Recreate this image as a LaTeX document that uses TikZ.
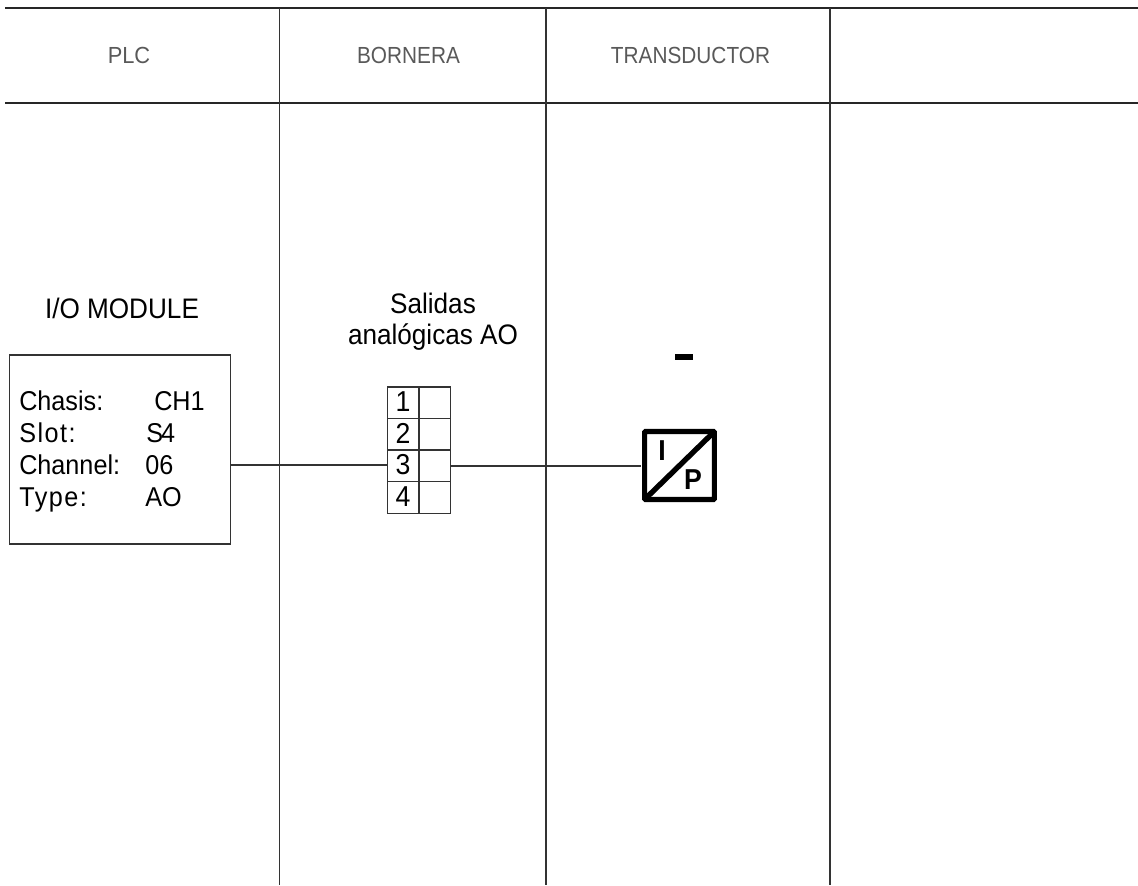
\documentclass[tikz,border=0pt]{standalone}
\usepackage{graphicx}
\usepackage{fontspec}
\setmainfont{Liberation Sans}
\newcommand{\tl}[1]{\scalebox{1}[1.08]{#1}}
\newcommand{\wide}[1]{{\addfontfeature{LetterSpace=6}#1}}
\tikzset{
  x=0.75pt, y=-0.75pt,
  rule/.style={draw=black!85, line width=0.9pt},
  thin rule/.style={draw=black!80, line width=0.8pt},
  hdr/.style={font=\fontsize{15.6pt}{15.6pt}\selectfont, text=black!65, inner sep=0pt, anchor=base},
  lbl/.style={font=\fontsize{19.6pt}{19.6pt}\selectfont, text=black, inner sep=0pt, anchor=base},
  lblw/.style={font=\fontsize{18.9pt}{18.9pt}\selectfont, text=black, inner sep=0pt, anchor=base west},
  cell/.style={thin rule, minimum width=23.25pt, minimum height=23.6pt, inner sep=0pt, outer sep=0pt, font=\fontsize{20pt}{20pt}\selectfont},
  iptxt/.style={font=\fontsize{20pt}{20pt}\selectfont\bfseries, inner sep=0pt, anchor=center},
}
\begin{document}
\begin{tikzpicture}
\useasboundingbox (0,0) rectangle (1138,885);
\fill[white] (0,0) rectangle (1138,885);
% frame
\coordinate (hl1) at (5,8);   \coordinate (hr1) at (1138,8);
\coordinate (hl2) at (5,103); \coordinate (hr2) at (1138,103);
\coordinate (v1t) at (279.5,8); \coordinate (v1b) at (279.5,885);
\coordinate (v2t) at (546,8);   \coordinate (v2b) at (546,885);
\coordinate (v3t) at (830,8);   \coordinate (v3b) at (830,885);
\draw[rule] (hl1) -- (hr1);
\draw[rule] (hl2) -- (hr2);
\draw[thin rule] (v1t) -- (v1b);
\draw[thin rule] (v2t) -- (v2b);
\draw[thin rule] (v3t) -- (v3b);
% headers
\node[hdr] (hplc) at (129,63) {\scalebox{1.05}[1.12]{PLC}};
\node[hdr] (hbor) at (408.5,63) {\scalebox{1}[1.12]{BORNERA}};
\node[hdr] (htra) at (690.5,63) {\scalebox{1}[1.12]{TRANSDUCTOR}};
% module
\node[lbl] (iomod) at (122,318) {\tl{I/O MODULE}};
\node[thin rule, minimum width=165.75pt, minimum height=141.75pt, inner sep=0pt, outer sep=0pt] (box) at (120,449.5) {};
\node[lblw] (k1) at (19,410) {\tl{Chasis:}};
\node[lblw] (k2) at (19,442) {\tl{\wide{Slot:}}};
\node[lblw] (k3) at (19,474) {\tl{Channel:}};
\node[lblw] (k4) at (19,506) {\tl{\wide{Type:}}};
\node[lblw] (v1) at (154,410) {\tl{CH1}};
\node[lblw] (v2) at (146,442) {\tl{S\kern-1.5pt 4}};
\node[lblw] (v3) at (145,474) {\tl{06}};
\node[lblw] (v4) at (145,506) {\tl{AO}};
% terminal block
\node[lbl] (sal1) at (433,313) {\tl{Salidas}};
\node[lbl] (sal2) at (433,344) {\tl{anal\'ogicas AO}};
\node[cell] (t1) at (403,402.7) {\raisebox{1.5pt}{\tl{1}}};
\node[cell] (t2) at (403,434.2) {\raisebox{1.5pt}{\tl{2}}};
\node[cell] (t3) at (403,465.9) {\raisebox{1.5pt}{\tl{3}}};
\node[cell] (t4) at (403,497.5) {\raisebox{1.5pt}{\tl{4}}};
\node[cell] (u1) at (435,402.7) {};
\node[cell] (u2) at (435,434.2) {};
\node[cell] (u3) at (435,465.9) {};
\node[cell] (u4) at (435,497.5) {};
% I/P symbol
\node[draw=black, line width=3.8pt, rounded corners=0.6pt, minimum width=52.4pt, minimum height=51pt, inner sep=0pt, outer sep=0pt] (ip) at (679.5,465.5) {};
\draw[black, line width=4pt] (ip.south west) -- (ip.north east);
\node[iptxt] (ipi) at (662,450.5) {\tl{I}};
\node[iptxt] (ipp) at (693,479.5) {\tl{P}};
\node[fill=black, minimum width=12.8pt, minimum height=4.4pt, inner sep=0pt] (dash) at (684,357) {};
% connectors
\coordinate (rowa) at (0,465);
\coordinate (rowb) at (0,466);
\draw[thin rule] (box.east |- rowa) -- (t3.west |- rowa);
\draw[thin rule] (u3.east |- rowb) -- ([xshift=-2.6pt]ip.west |- rowb);
\end{tikzpicture}
\end{document}
